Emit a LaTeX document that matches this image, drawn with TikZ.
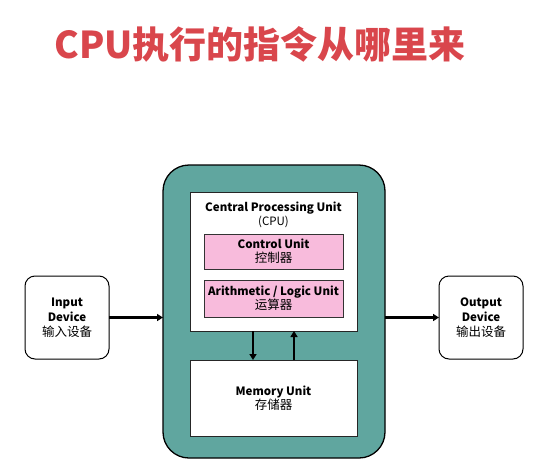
\documentclass[tikz,border=0pt]{standalone}
\usepackage{fontspec}
\setmainfont{Noto Sans CJK SC}
\usetikzlibrary{arrows.meta}
\definecolor{titlered}{HTML}{D9464C}
\definecolor{tealbg}{HTML}{60A69F}
\definecolor{pinkbox}{HTML}{F8BBDC}
\newcommand{\zh}[1]{{\fontsize{12.5}{14}\selectfont #1}}
\begin{document}
\begin{tikzpicture}[x=1pt,y=-1pt,
  every node/.style={inner sep=0pt, outer sep=0pt},
  shell/.style={draw=black, line width=1.3pt, fill=tealbg, rounded corners=26pt},
  whitebox/.style={draw=black!85, line width=0.9pt, fill=white},
  pinkunit/.style={draw=black!80, line width=0.9pt, fill=pinkbox, font=\fontsize{11.5}{14}\selectfont, align=center},
  devbox/.style={draw=black, line width=1pt, fill=white, rounded corners=10pt, align=center,
    minimum width=84pt, minimum height=83pt, font=\fontsize{11.5}{15}\selectfont},
  bus/.style={line width=2.6pt, -{Triangle[length=6pt,width=7pt]}},
  lbl/.style={font=\fontsize{11.5}{14.5}\selectfont, align=center}
]
\path[use as bounding box] (0,0) rectangle (549,461);

% heading
\node[text=titlered, font=\fontsize{37}{41}\bfseries] (title) at (260,44) {CPU执行的指令从哪里来};

% computer shell
\node[shell, minimum width=222pt, minimum height=293pt] (shell) at (274,311.5) {};

% processor
\node[whitebox, minimum width=167pt, minimum height=139pt] (cpu) at (273.5,261.5) {};
\node[lbl] (cpulabel) at (273.5,215) {\textbf{Central Processing Unit}\\(CPU)};
\node[pinkunit, minimum width=139pt, minimum height=35pt] (cu) at (273.5,251.5) {\textbf{Control Unit}\\\zh{控制器}};
\node[pinkunit, minimum width=139pt, minimum height=37pt] (alu) at (273.5,298.5) {\textbf{Arithmetic / Logic Unit}\\\zh{运算器}};

% memory
\node[whitebox, minimum width=167pt, minimum height=76pt] (mem) at (273.5,398) {};
\node[lbl] (memlabel) at (273.5,398) {\textbf{Memory Unit}\\\zh{存储器}};

% peripherals
\node[devbox] (in) at (67,317.5) {\textbf{Input}\\\textbf{Device}\\\zh{输入设备}};
\node[devbox] (out) at (481,317.5) {\textbf{Output}\\\textbf{Device}\\\zh{输出设备}};

% data paths
\draw[bus] (in.east) -- (in.east -| shell.west);
\draw[bus] (out.west -| shell.east) -- (out.west);
\draw[bus] ([xshift=-20.5pt]cpu.south) -- ([xshift=-20.5pt]mem.north);
\draw[bus] ([xshift=20.5pt]mem.north) -- ([xshift=20.5pt]cpu.south);
\end{tikzpicture}
\end{document}
